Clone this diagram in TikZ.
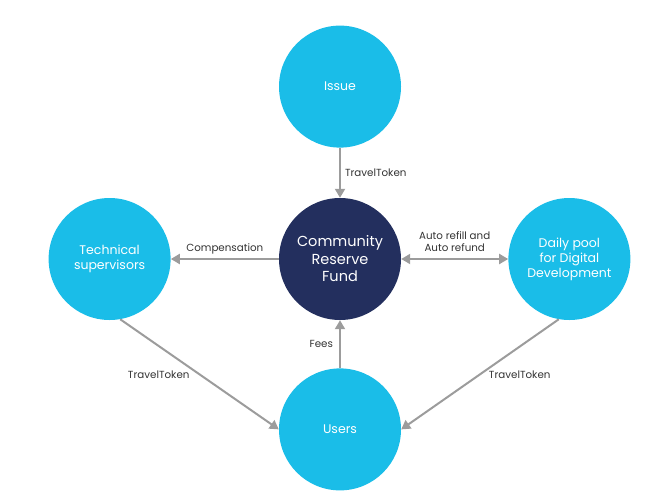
\documentclass[tikz,border=0pt]{standalone}
\usepackage{fontspec}
\setmainfont{Poppins}
\usetikzlibrary{arrows.meta, positioning}
\definecolor{tokencyan}{HTML}{1ABDE8}
\definecolor{fundnavy}{HTML}{232F5E}
\definecolor{flowgray}{HTML}{9C9C9C}
\definecolor{labelgray}{HTML}{333333}
\tikzset{
    party/.style = {circle, fill=tokencyan, text=white, minimum size=122pt, inner sep=0pt, align=center, font=\fontsize{12.5}{15}\selectfont},
    fund/.style = {party, fill=fundnavy, font=\fontsize{14.5}{17.5}\selectfont},
    flow/.style = {draw=flowgray, line width=2pt, -{Triangle[length=9pt, width=10pt]}},
    twoway/.style = {flow, {Triangle[length=9pt, width=10pt]}-{Triangle[length=9pt, width=10pt]}},
    flowlabel/.style = {text=labelgray, align=center, inner sep=1pt, font=\fontsize{10.3}{12}\selectfont}
}

\begin{document}
\begin{tikzpicture}[x=1pt, y=-1pt]
        \useasboundingbox (0,0) rectangle (663,493);
        % Reserve in the middle
        \node [fund] (crf) at (340,259) {Community\\Reserve\\Fund};
        
        % Parties round it
        \node [party, above=50pt of crf] (issue) {Issue};
        \node [party, left=108pt of crf] (tech) {Technical\\supervisors};
        \node [party, right=107pt of crf] (pool) {Daily pool\\for Digital\\Development};
        \node [party, below=48pt of crf] (users) {Users};
        
        % Arrows
        \draw [flow] (issue) -- node [flowlabel, right=3pt] (issuelbl) {TravelToken} (crf);
        \draw [flow] (crf) -- node [flowlabel, above=3pt] (complbl) {Compensation} (tech);
        \draw [twoway] (crf) -- node [flowlabel, above=5pt] (autolbl) {Auto refill and\\Auto refund} (pool);
        \draw [flow] (users) -- node [flowlabel, left=5pt] (feeslbl) {Fees} (crf);
        \draw [flow] (tech.-80) -- node [flowlabel, left=8pt] (techlbl) {TravelToken} (users.west);
        \draw [flow] (pool.-100) -- node [flowlabel, right=7pt] (poollbl) {TravelToken} (users.east);
        
    \end{tikzpicture}
\end{document}
